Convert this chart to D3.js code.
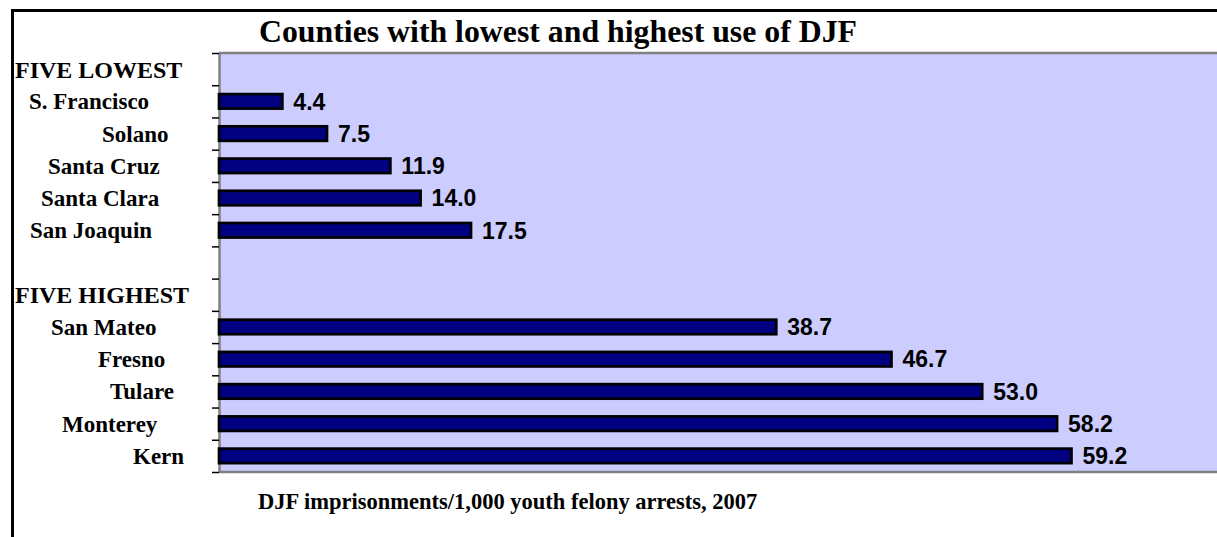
<!DOCTYPE html>
<html>
<head>
<meta charset="utf-8">
<script src="https://cdn.jsdelivr.net/npm/d3@7"></script>
<style>
  body { margin: 0; background: #fff; }
  svg { display: block; }
</style>
</head>
<body>
<svg width="1217" height="537"></svg>
<script>
// rows of the chart, top to bottom (blank row separates the two groups)
const categories = ["FIVE LOWEST", "S. Francisco", "Solano", "Santa Cruz", "Santa Clara", "San Joaquin", "",
                    "FIVE HIGHEST", "San Mateo", "Fresno", "Tulare", "Monterey", "Kern"]
const values = [null, 4.4, 7.5, 11.9, 14.0, 17.5, null, null, 38.7, 46.7, 53.0, 58.2, 59.2]
const headers = ["FIVE LOWEST", "FIVE HIGHEST"]

const titleText = "Counties with lowest and highest use of DJF"
const axisTitle = "DJF imprisonments/1,000 youth felony arrests, 2007"

// label left edges (the original had padded labels, so they don't line up)
const labelX = [15, 29, 102, 48, 41, 30, 0, 15, 51, 98, 110, 62, 133]

const plotLeft = 219
const plotTop = 53
const plotBottom = 472
const plotRight = 1227

let svg = d3.select("svg")

// outer frame, only top and left edges are in view
svg.append("rect")
  .attr("x", 12.5)
  .attr("y", 10.5)
  .attr("width", 1300)
  .attr("height", 700)
  .attr("fill", "none")
  .attr("stroke", "black")
  .attr("stroke-width", 3)

const x = d3.scaleLinear()
  .domain([0, 70])
  .range([plotLeft, plotRight])

const rows = d3.range(categories.length)

const y = d3.scaleBand()
  .domain(rows)
  .range([plotTop, plotBottom])
  .paddingInner(0.55)
  .paddingOuter(0.275)

// row boundaries for the tick marks
const rowScale = d3.scaleLinear()
  .domain([0, categories.length])
  .range([plotTop, plotBottom])

// plot background
svg.append("rect")
  .attr("x", plotLeft)
  .attr("y", plotTop)
  .attr("width", plotRight - plotLeft + 20)
  .attr("height", plotBottom - plotTop)
  .attr("fill", "#ccccff")

svg.append("line")
  .attr("x1", plotLeft).attr("x2", 1217)
  .attr("y1", plotTop).attr("y2", plotTop)
  .attr("stroke", "#808080").attr("stroke-width", 2.5)

svg.append("line")
  .attr("x1", plotLeft).attr("x2", 1217)
  .attr("y1", plotBottom).attr("y2", plotBottom)
  .attr("stroke", "#808080").attr("stroke-width", 2.5)

// left axis, ticks at row boundaries
let axis = svg.append("g")
  .attr("transform", `translate(${plotLeft},0)`)
  .call(d3.axisLeft(rowScale)
    .tickValues(d3.range(categories.length + 1))
    .tickFormat("")
    .tickSize(7)
    .tickSizeOuter(0))

axis.select(".domain")
  .attr("stroke", "#808080")
  .attr("stroke-width", 2.5)
axis.selectAll(".tick line")
  .attr("stroke", "black")
  .attr("stroke-width", 1.5)

// bars
const barData = rows.filter(i => values[i] != null)

svg.append("g")
  .selectAll("rect")
  .data(barData)
  .enter()
    .append("rect")
    .attr("x", x(0))
    .attr("y", i => y(i))
    .attr("width", i => x(values[i]) - x(0))
    .attr("height", y.bandwidth())
    .attr("fill", "#000080")
    .attr("stroke", "black")
    .attr("stroke-width", 2.7)

// value labels
svg.append("g")
  .selectAll("text")
  .data(barData)
  .enter()
    .append("text")
    .attr("x", i => x(values[i]) + 11)
    .attr("y", i => y(i) + y.bandwidth() / 2)
    .attr("dy", "0.36em")
    .attr("font-family", "'Liberation Sans', Arial, sans-serif")
    .attr("font-weight", "bold")
    .attr("font-size", "23px")
    .attr("fill", "black")
    .text(i => d3.format(".1f")(values[i]))

// category labels
svg.append("g")
  .selectAll("text")
  .data(rows.filter(i => categories[i] !== ""))
  .enter()
    .append("text")
    .attr("x", i => labelX[i])
    .attr("y", i => y(i) + y.bandwidth() / 2)
    .attr("dy", "0.35em")
    .attr("font-family", "'Liberation Serif', 'Times New Roman', serif")
    .attr("font-weight", "bold")
    .attr("font-size", i => headers.includes(categories[i]) ? "24px" : "23px")
    .attr("fill", "black")
    .text(i => categories[i])

// title
svg.append("text")
  .attr("x", 259)
  .attr("y", 42)
  .attr("font-family", "'Liberation Serif', 'Times New Roman', serif")
  .attr("font-weight", "bold")
  .attr("font-size", "31.8px")
  .text(titleText)

// axis title
svg.append("text")
  .attr("x", 258)
  .attr("y", 509)
  .attr("font-family", "'Liberation Serif', 'Times New Roman', serif")
  .attr("font-weight", "bold")
  .attr("font-size", "22.5px")
  .text(axisTitle)
</script>
</body>
</html>
